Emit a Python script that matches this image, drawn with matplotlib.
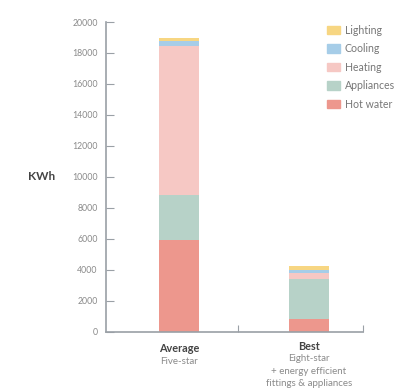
import matplotlib.pyplot as plt
from matplotlib.patches import Patch
from matplotlib.transforms import blended_transform_factory
import numpy as np

plt.rcParams['font.family'] = ['Lato', 'DejaVu Sans']

groups = ['Average', 'Best']
subtitles = [['Five-star'], ['Eight-star', '+ energy efficient', 'fittings & appliances']]
series = ['Hot water', 'Appliances', 'Heating', 'Cooling', 'Lighting']
hot_water = [5900, 800]
appliances = [2900, 2600]
heating = [9650, 400]
cooling = [330, 200]
lighting = [190, 260]
colors = ['#ed978d', '#b7d2c8', '#f6c8c4', '#a6cde8', '#f7d682']

axis_col = '#9aa0a6'
txt_col = '#8a8a8a'

fig = plt.figure(figsize=(3.95, 3.92), dpi=100)
ax = fig.add_axes([106 / 395, 1 - 331.5 / 392, (363 - 106) / 395, (331.5 - 22) / 392])

x = np.arange(len(groups))
bottom = np.zeros(len(groups))
for vals, c, name in zip([hot_water, appliances, heating, cooling, lighting], colors, series):
    ax.bar(x, vals, width=0.31, bottom=bottom, color=c, label=name)
    bottom += np.array(vals)

ax.set_xlim(-0.5615, 1.415)
ax.set_ylim(0, 20000)
ax.set_yticks(np.arange(0, 20001, 2000))
ax.tick_params(axis='y', direction='in', length=6, color=axis_col, labelsize=6.3,
               labelcolor=txt_col, pad=6)
ax.set_xticks([0.4515, 1.415])
ax.set_xticklabels([])
ax.tick_params(axis='x', direction='in', length=5, color=axis_col)
for s in ['top', 'right']:
    ax.spines[s].set_visible(False)
for s in ['left', 'bottom']:
    ax.spines[s].set_color(axis_col)
    ax.spines[s].set_linewidth(1.2)

fig.text(42 / 395, 1 - 176.5 / 392, 'KWh', fontsize=8.5, fontweight='bold',
         color='#444444', ha='center', va='center')

# category labels under the bars
tr = blended_transform_factory(ax.transData, fig.transFigure)
title_y = [349, 346]
for i, (g, sub) in enumerate(zip(groups, subtitles)):
    ax.text(i, 1 - title_y[i] / 392, g, transform=tr, ha='center', va='center',
            fontsize=7.8, fontweight='bold', color='#444444')
    for j, line in enumerate(sub):
        ax.text(i, 1 - (title_y[i] + 12.5 * (j + 1)) / 392, line, transform=tr,
                ha='center', va='center', fontsize=7, color=txt_col)

handles = [Patch(color=c, label=n) for c, n in zip(colors, series)][::-1]
fig.legend(handles=handles, loc='upper left', bbox_to_anchor=(327 / 395, 1 - 24.5 / 392),
           frameon=False, fontsize=7.6, labelcolor='#777777', handlelength=1.2,
           handleheight=0.85, handletextpad=0.5, labelspacing=0.72, borderpad=0,
           borderaxespad=0)

fig.savefig('out.png', dpi=100)
